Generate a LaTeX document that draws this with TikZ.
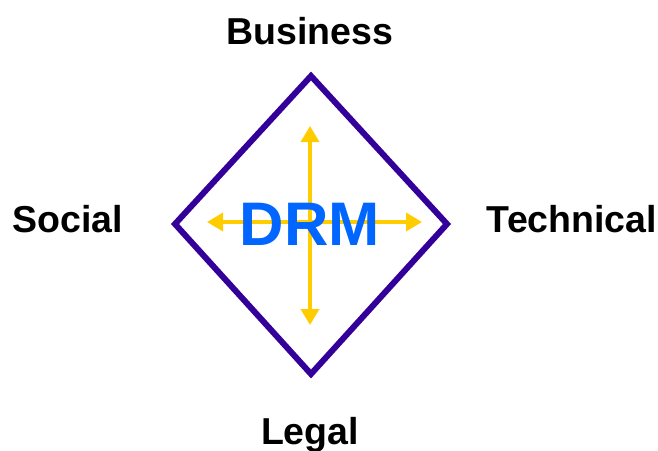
\documentclass[tikz,border=0pt]{standalone}
\usepackage{fontspec}
\setmainfont{Liberation Sans}
\usetikzlibrary{arrows.meta}
\definecolor{diacol}{HTML}{330099}
\definecolor{arrcol}{HTML}{FFCC00}
\definecolor{drmcol}{HTML}{0066FF}
\begin{document}
\begin{tikzpicture}[x=1pt,y=-1pt,
  lbl/.style={font=\fontsize{37.5}{40}\selectfont\bfseries, inner sep=0pt, anchor=base},
  axis/.style={draw=arrcol, line width=3.5pt, -{Triangle[length=16pt,width=18pt]}},
  border/.style={draw=diacol, line width=6pt, line join=miter}]
\useasboundingbox (0,0) rectangle (658,450);
\coordinate (top) at (311,76);
\coordinate (bot) at (311,374);
\coordinate (lft) at (175,224);
\coordinate (rgt) at (447,224);
\coordinate (c) at (310,222);
\coordinate (an) at (310,126);
\coordinate (as) at (310,325);
\coordinate (aw) at (207,222);
\coordinate (ae) at (422,222);
\draw[border] (top) -- (rgt) -- (bot) -- (lft) -- cycle;
\draw[axis] (c) -- (an);
\draw[axis] (c) -- (as);
\draw[axis] (c) -- (aw);
\draw[axis] (c) -- (ae);
\node[font=\fontsize{61.5}{64}\selectfont\bfseries, text=drmcol, inner sep=0pt, anchor=base] (drm) at (310,245) {DRM};
\node[lbl] (business) at (310,44) {Business};
\node[lbl] (social) at (68,232) {Social};
\node[lbl] (technical) at (572,232) {Technical};
\node[lbl] (legal) at (310,444) {Legal};
\end{tikzpicture}
\end{document}
